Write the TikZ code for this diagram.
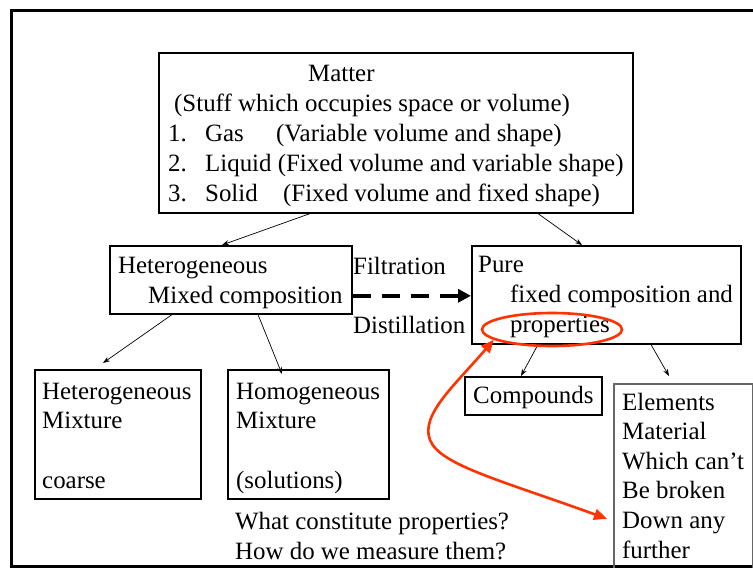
\documentclass[tikz,border=0pt]{standalone}
\usepackage{fontspec}
\setmainfont{Liberation Serif}
\usepackage{tikz}
\usetikzlibrary{arrows.meta, positioning, shapes.geometric, calc}
\definecolor{markRed}{HTML}{FF3300}
\definecolor{edgeGray}{HTML}{666666}

\begin{document}
\begin{tikzpicture}[
  x=1pt, y=-1pt,
  font=\fontsize{24.9}{29.6}\selectfont,
  >={Stealth[length=7pt, width=5pt]},
  every node/.style={align=left, inner sep=0pt},
  box/.style={rectangle, draw=black, line width=1.6pt, anchor=north west},
  words/.style={anchor=base west},
  link/.style={->, line width=0.7pt},
  process/.style={-{Triangle[length=13pt, width=13pt]}, line width=4pt,
                  dash pattern=on 18pt off 11pt},
  circled/.style={ellipse, draw=markRed, line width=2.6pt,
                  minimum width=140pt, minimum height=33pt},
  pointer/.style={{Triangle[length=13pt, width=11pt]}-{Triangle[length=13pt, width=11pt]},
                  draw=markRed, line width=2.6pt},
]
\useasboundingbox (0,0) rectangle (753,568);

% outer frame
\draw[line width=3pt] (11,10) rectangle (780,566);

% boxes
\node[box, minimum width=474pt, minimum height=160pt] (matter) at (158,52) {};
\node[box, minimum width=242pt, minimum height=68pt] (hetero) at (109,245) {};
\node[box, minimum width=269pt, minimum height=98pt] (pure) at (471,245) {};
\node[box, minimum width=166pt, minimum height=129pt] (hetmix) at (34,369) {};
\node[box, minimum width=161pt, minimum height=129pt] (homomix) at (227,369) {};
\node[box, minimum width=137pt, minimum height=38pt] (compounds) at (464,376) {};
\node[box, draw=edgeGray, minimum width=139pt, minimum height=210pt] (elements) at (613,383) {};

% texts (anchored at the baseline of their last line)
\node[words, font=\fontsize{24.9}{30}\selectfont] (mattertxt) at (168,201) {%
  \hspace*{140pt}Matter\\
  \hspace*{6pt}(Stuff which occupies space or volume)\\
  \makebox[37pt][l]{1.}\makebox[71pt][l]{Gas}(Variable volume and shape)\\
  \makebox[37pt][l]{2.}Liquid (Fixed volume and variable shape)\\
  \makebox[37pt][l]{3.}\makebox[78pt][l]{Solid}(Fixed volume and fixed shape)};
\node[words] (heterotxt) at (118,303) {Heterogeneous\\\hspace*{30pt}Mixed composition};
\node[words] (filter) at (353,274) {Filtration};
\node[words] (distil) at (353,333) {Distillation};
\node[words] (puretxt) at (478,332) {Pure\\\hspace*{32pt}fixed composition and\\\hspace*{32pt}properties};
\node[words] (compoundstxt) at (473,403) {Compounds};
\node[words] (elementstxt) at (622,558) {Elements\\Material\\Which can't\\Be broken\\Down any\\further};
\node[words] (hetmixtxt) at (42,488) {Heterogeneous\\Mixture\\\mbox{}\\coarse};
\node[words] (homomixtxt) at (236,488) {Homogeneous\\Mixture\\\mbox{}\\(solutions)};
\node[words] (questions) at (235,559) {What constitute properties?\\How do we measure them?};

% connectors
\draw[link] ([xshift=152pt]matter.south west) -- ([xshift=113pt]hetero.north west);
\draw[link] ([xshift=380pt]matter.south west) -- ([xshift=111pt]pure.north west);
\draw[link] ([xshift=63pt]hetero.south west) -- ([xshift=69pt, yshift=6pt]hetmix.north west);
\draw[link] ([xshift=149pt]hetero.south west) -- ([xshift=55pt, yshift=-5pt]homomix.north west);
\draw[link] ([xshift=67pt]pure.south west) -- ([xshift=57pt]compounds.north west);
\draw[link] ([xshift=180pt]pure.south west) -- ([xshift=56pt, yshift=7pt]elements.north west);
\draw[process] ([yshift=-16pt]hetero.east) -- ([yshift=-16pt]hetero.east -| pure.west);

% red marking
\node[circled] (props) at (552,329.5) {};
\draw[pointer] (props.-170) .. controls (455,385) and (420,415) .. (430,440)
  .. controls (440,465) and (500,480) .. ([xshift=-6pt, yshift=-30pt]elements.west);

\end{tikzpicture}
\end{document}
